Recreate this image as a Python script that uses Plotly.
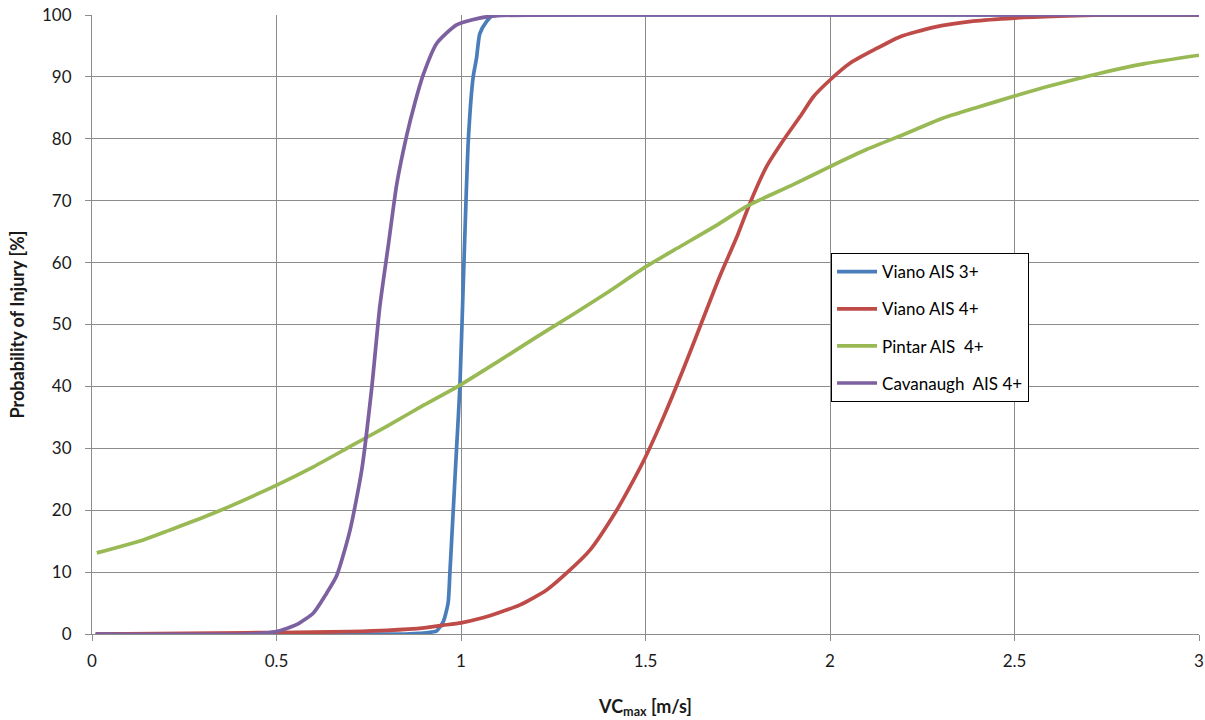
import plotly.graph_objects as go

# ---- data ----
viano3_x = [0.01, 0.5, 0.85, 0.89, 0.92, 0.934, 0.952, 0.965, 0.97, 0.979, 0.988, 0.997,
            1.008, 1.02, 1.033, 1.042, 1.051, 1.07, 1.087, 1.15, 1.5, 2.0, 2.5, 3.0]
viano3_y = [0, 0, 0, 0.1, 0.3, 0.5, 2, 5, 10, 20, 30, 40,
            60, 80, 90, 93, 97, 99, 100, 100, 100, 100, 100, 100]

viano4_x = [0.01, 0.42, 0.6, 0.7, 0.8, 0.9, 0.95, 1.0, 1.051, 1.1, 1.16, 1.232, 1.291, 1.35,
            1.422, 1.458, 1.5, 1.55, 1.6, 1.65, 1.7, 1.75, 1.783, 1.828, 1.874, 1.919,
            1.955, 2.0, 2.054, 2.117, 2.19, 2.28, 2.388, 2.5, 2.62, 2.75, 3.0]
viano4_y = [0, 0.2, 0.3, 0.4, 0.6, 1.0, 1.4, 1.8, 2.5, 3.4, 4.7, 7.1, 10.1, 13.6,
            20.0, 23.8, 28.6, 35.2, 42.4, 50.0, 57.6, 64.5, 69.6, 75.5, 79.8, 83.6,
            86.8, 89.5, 92.2, 94.3, 96.5, 98.0, 99.0, 99.5, 99.8, 100, 100]

pintar_x = [0.013, 0.139, 0.207, 0.329, 0.502, 0.6, 0.7, 0.8, 0.9, 1.0, 1.1, 1.2, 1.3,
            1.4, 1.5, 1.6, 1.7, 1.774, 1.9, 2.0, 2.1, 2.208, 2.3, 2.4, 2.5, 2.6,
            2.732, 2.85, 3.0]
pintar_y = [13.1, 15.2, 16.7, 19.5, 24.1, 27.0, 30.3, 33.6, 37.0, 40.3, 44.0, 47.8, 51.5,
            55.3, 59.3, 62.8, 66.3, 69.1, 72.6, 75.5, 78.3, 80.9, 83.2, 85.1, 86.9, 88.6,
            90.6, 92.1, 93.5]

cav_x = [0.01, 0.418, 0.5, 0.554, 0.6, 0.636, 0.663, 0.699, 0.731, 0.758, 0.78, 0.803,
         0.826, 0.853, 0.875, 0.898, 0.934, 0.988, 1.05, 1.1, 1.5, 2.0, 2.5, 3.0]
cav_y = [0, 0, 0.4, 1.5, 3.4, 6.6, 9.4, 16.7, 26.5, 39.7, 52.9, 62.8,
         72.7, 80.6, 85.8, 90.4, 95.4, 98.4, 99.5, 99.9, 100, 100, 100, 100]

series = [
    ("Viano AIS 3+", viano3_x, viano3_y, "#4A7EBB"),
    ("Viano AIS 4+", viano4_x, viano4_y, "#BE4B48"),
    ("Pintar AIS\u00a0 4+", pintar_x, pintar_y, "#98B954"),
    ("Cavanaugh\u00a0 AIS 4+", cav_x, cav_y, "#7D60A0"),
]

x_ticks = [0, 0.5, 1, 1.5, 2, 2.5, 3]
x_tick_text = ["0", "0.5", "1", "1.5", "2", "2.5", "3"]
y_ticks = list(range(0, 101, 10))

FONT = "Lato, Carlito, Calibri, sans-serif"
GRID = "#8C8C8C"

fig = go.Figure()
for name, xs, ys, col in series:
    fig.add_trace(go.Scatter(x=xs, y=ys, mode="lines", name=name, legendgroup=name,
                             line=dict(color=col, width=3.7, shape="spline", smoothing=0.6)))

fig.update_layout(
    width=1205, height=720,
    margin=dict(l=92, r=6, t=15, b=86, autoexpand=False),
    paper_bgcolor="white", plot_bgcolor="white",
    font=dict(family=FONT, size=17, color="#1a1a1a"),
    showlegend=True,
    legend=dict(x=0.6676, y=0.6153, xanchor="left", yanchor="top",
                bgcolor="white", bordercolor="black", borderwidth=1,
                font=dict(family=FONT, size=17, color="black"),
                traceorder="grouped", tracegroupgap=12, itemwidth=40),
)
fig.update_xaxes(range=[0, 3], tickvals=x_ticks, ticktext=x_tick_text, automargin=False,
                 showgrid=True, gridcolor=GRID, gridwidth=1,
                 showline=True, linecolor=GRID, linewidth=1,
                 ticks="outside", ticklen=6, tickcolor=GRID, ticklabelstandoff=6,
                 zeroline=False, mirror=False,
                 title=dict(text="<b>VC<sub>max</sub> [m/s]</b>", font=dict(size=18, family=FONT), standoff=29))
fig.update_yaxes(range=[0, 100], tickvals=y_ticks, automargin=False,
                 showgrid=True, gridcolor=GRID, gridwidth=1,
                 showline=True, linecolor=GRID, linewidth=1,
                 ticks="outside", ticklen=6, tickcolor=GRID, ticklabelstandoff=10,
                 zeroline=False,
                 title=dict(text="<b>Probability of Injury [%]</b>", font=dict(size=18, family=FONT), standoff=12))

fig.write_html("out.html")
